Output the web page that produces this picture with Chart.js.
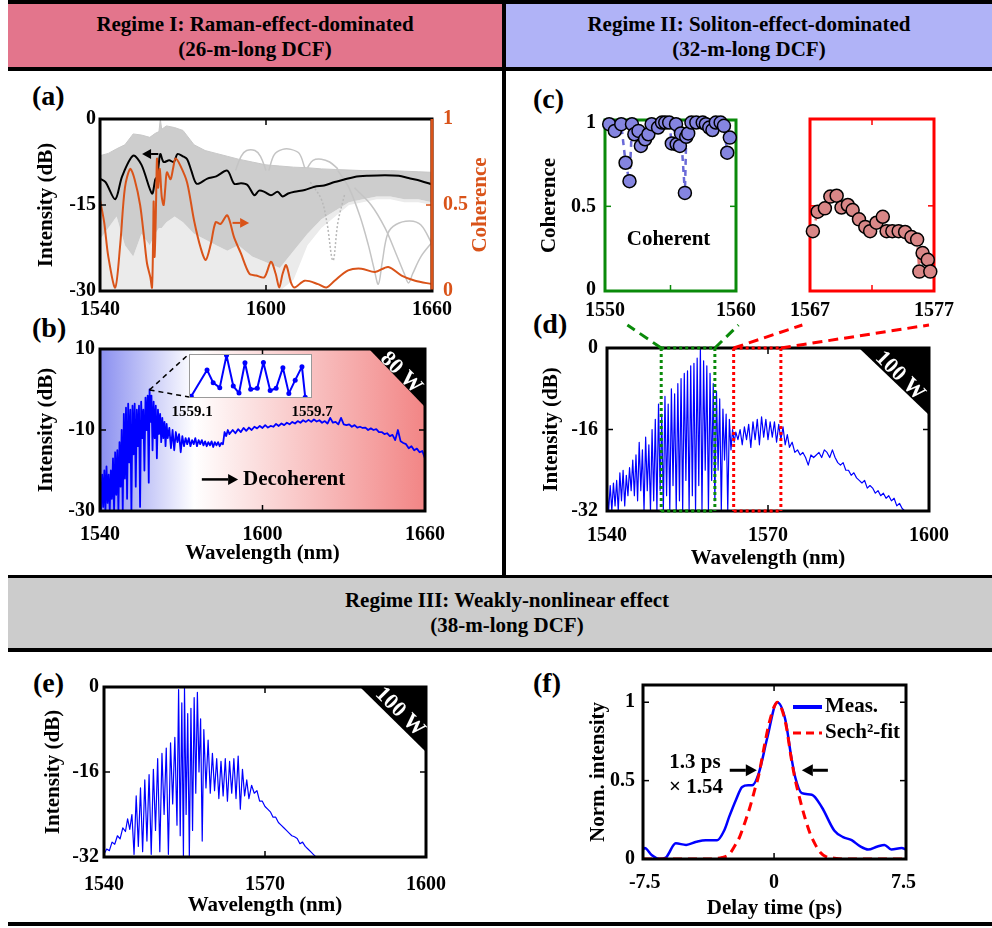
<!DOCTYPE html>
<html>
<head>
<meta charset="utf-8">
<script src="https://cdn.jsdelivr.net/npm/chart.js@4.4.1/dist/chart.umd.min.js"></script>
<style>
  body { margin: 0; background: #fff; }
  #fig { position: relative; width: 992px; height: 928px; overflow: hidden;
         font-family: 'Liberation Serif', 'Times New Roman', serif; font-weight: bold; color: #000; }
  .rule { position: absolute; background: #000; }
  .band { position: absolute; box-sizing: border-box; text-align: center; font-size: 21px; line-height: 25px; }
  .tag { position: absolute; font-size: 28px; line-height: 28px; }
  canvas { position: absolute; }
</style>
</head>
<body>
<div id="fig">
  <div class="rule" style="left:8px;top:0;width:984px;height:4px"></div>
  <div class="band" style="left:8px;top:4px;width:494px;height:63px;background:#e3758c;padding-top:8px">Regime I: Raman-effect-dominated<br>(26-m-long DCF)</div>
  <div class="band" style="left:506px;top:4px;width:486px;height:63px;background:#b0b3f7;padding-top:8px">Regime II: Soliton-effect-dominated<br>(32-m-long DCF)</div>
  <div class="rule" style="left:8px;top:67px;width:984px;height:4px"></div>
  <div class="rule" style="left:502px;top:0;width:4px;height:576px"></div>
  <div class="rule" style="left:8px;top:575px;width:984px;height:3px"></div>
  <div class="band" style="left:8px;top:578px;width:984px;height:70px;background:#cccccc;padding-top:10px;padding-left:14px">Regime III: Weakly-nonlinear effect<br>(38-m-long DCF)</div>
  <div class="rule" style="left:8px;top:648px;width:984px;height:4px"></div>
  <div class="rule" style="left:8px;top:922px;width:984px;height:4px"></div>

  <div class="tag" style="left:32px;top:82px">(a)</div>
  <div class="tag" style="left:32px;top:314px">(b)</div>
  <div class="tag" style="left:533px;top:85px">(c)</div>
  <div class="tag" style="left:533px;top:310px">(d)</div>
  <div class="tag" style="left:33px;top:669px">(e)</div>
  <div class="tag" style="left:533px;top:669px">(f)</div>
</div>
<script>
// ---------------- data ----------------

// (a) single-shot spectra envelope (gray), mean spectrum (black), coherence (orange)
const aEnvLam = [1540, 1543, 1546, 1549, 1552, 1555, 1558, 1560, 1561.3, 1561.8, 1562.3, 1564, 1567, 1570, 1574, 1578,
  1582, 1586, 1590, 1595, 1600, 1605, 1610, 1615, 1620, 1625, 1630, 1635, 1640, 1645, 1650, 1655, 1660];
const aEnvTop = [-6.4, -6, -5.2, -4.5, -2.6, -2.8, -3.2, -2.5, -2.2, 0, -1.8, -1.2, -1.5, -2, -4.5, -5.5,
  -6, -6.5, -7, -7.5, -8, -8.2, -8.4, -8.5, -8.7, -8.8, -8.9, -9, -9, -9, -9.1, -9.2, -9.3];
const aEnvDense = [-21, -19, -17, -22, -24, -20, -22, -20, -19, -19, -19, -18, -17, -18, -20, -21,
  -22, -23, -22, -24, -25, -26, -23, -20, -17.5, -16, -14.5, -14, -13.5, -13.5, -14, -14, -14.5];
const aEnvSparse = [-30, -30, -30, -30, -30, -30, -30, -30, -30, -30, -30, -30, -30, -30, -30, -30,
  -30, -30, -30, -30, -30, -30, -28, -22, -19, -17, -15, -14.5, -14, -14, -14.5, -14.5, -15];
const aArc1Lam = [1589, 1591, 1593, 1596, 1598, 1600];
const aArc1Db = [-9, -6.5, -5.5, -5.5, -6.5, -9];
const aArc2Lam = [1601, 1603, 1606, 1609, 1612, 1614];
const aArc2Db = [-9, -6.2, -5.3, -5.3, -6, -8.5];
const aArc3Lam = [1615, 1617, 1620, 1623, 1626];
const aArc3Db = [-8.5, -7.2, -7, -7.5, -8.7];
const aDrop1Lam = [1626, 1630, 1634, 1637, 1639, 1640.6, 1642, 1644, 1647, 1652, 1656, 1660];
const aDrop1Db = [-9, -12, -17, -22, -26, -28.8, -25, -20, -18.4, -17.8, -18.5, -21.8];
const aDrop2Lam = [1632, 1638, 1643, 1647, 1650, 1651.5, 1653, 1656, 1660];
const aDrop2Db = [-12, -15, -19, -23.5, -27, -28.6, -27, -24, -21.5];
const aDipLam = [1616, 1620, 1622, 1624.2, 1626, 1628.5];
const aDipDb = [-11, -14, -18, -24.7, -18, -13];
const aMeanLam = [1540, 1542, 1545.5, 1548, 1552, 1555, 1558.8, 1560, 1560.6, 1561.2, 1561.8, 1563, 1565, 1566.7, 1568,
  1570, 1571.5, 1573, 1575, 1578.8, 1582, 1586, 1588.5, 1591, 1593.3, 1595.8, 1597.5, 1599.4, 1601.8, 1604.2,
  1606, 1608, 1610.3, 1614, 1617.6, 1621, 1624.8, 1628, 1632, 1637, 1643, 1648, 1651.5, 1656, 1660];
const aMeanDb = [-10.4, -11, -14, -10, -6.4, -8, -13, -10.5, -10.1, -8, -6.1, -7.5, -7.2, -7.5, -6.1,
  -6.5, -7, -9, -11.3, -10.4, -10, -9, -11.3, -11.2, -11.5, -13.3, -12.5, -12.7, -13.3, -12.7,
  -13.5, -13, -12.7, -12.4, -11.8, -11.6, -11, -10.6, -10.1, -9.9, -9.8, -9.9, -10.3, -10.8, -11.4];
const aCohLam = [1540, 1541.5, 1543, 1545.5, 1547.3, 1549, 1550.9, 1552.5, 1554.5, 1556, 1557, 1558.2, 1558.8, 1559.2,
  1559.4, 1559.7, 1560, 1560.3, 1560.6, 1561, 1561.6, 1562.3, 1563, 1563.6, 1564.2, 1565.5, 1566.5, 1567.3, 1569,
  1571.5, 1574, 1576.4, 1578.2, 1580, 1581.8, 1583.6, 1586, 1588.5, 1590.9, 1594, 1596.4, 1599.4, 1601.8, 1603.5,
  1604.8, 1606, 1607.3, 1609, 1610.3, 1614, 1618.8, 1621.8, 1624.8, 1629.7, 1634.5, 1639.4, 1644.2, 1649, 1653.9, 1660];
const aCoh = [0.53, 0.4, 0.2, 0.02, 0.27, 0.6, 0.71, 0.65, 0.5, 0.3, 0.16, 0.08, 0.02, 0.3,
  0.52, 0.2, 0.32, 0.55, 0.77, 0.6, 0.71, 0.55, 0.5, 0.6, 0.69, 0.65, 0.72, 0.77, 0.73,
  0.63, 0.41, 0.25, 0.18, 0.27, 0.4, 0.39, 0.44, 0.31, 0.22, 0.1, 0.09, 0.08, 0.17, 0.1,
  0.02, 0.1, 0.15, 0.05, 0.02, 0.06, 0.04, 0.02, 0.06, 0.12, 0.13, 0.11, 0.14, 0.09, 0.06, 0.04];

// (b) 80 W spectrum and the inset detail (1559.1 - 1559.7 nm)
const bLam = [
  1540.0, 1540.4, 1540.8, 1541.2, 1541.6, 1542.0, 1542.4, 1542.8, 1543.2, 1543.6,
  1544.0, 1544.4, 1544.8, 1545.2, 1545.6, 1546.0, 1546.4, 1546.8, 1547.2, 1547.6,
  1548.0, 1548.4, 1548.8, 1549.2, 1549.6, 1550.0, 1550.4, 1550.8, 1551.2, 1551.6,
  1552.0, 1552.4, 1552.8, 1553.2, 1553.6, 1554.0, 1554.4, 1554.8, 1555.2, 1555.6,
  1556.0, 1556.4, 1556.8, 1557.2, 1557.6, 1558.0, 1558.3, 1558.6, 1559.0, 1559.4,
  1559.8, 1560.2, 1560.6, 1561.0, 1561.4, 1561.8, 1562.2, 1562.6, 1563.0, 1563.4,
  1563.8, 1564.2, 1564.6, 1565.0, 1565.6, 1566.2, 1566.8, 1567.4, 1568.0, 1568.6,
  1569.2, 1569.8, 1570.4, 1571.0, 1571.6, 1572.2, 1572.8, 1573.4, 1574.0, 1574.6,
  1575.2, 1575.8, 1576.4, 1577.0, 1577.6, 1578.2, 1578.8, 1579.4, 1580.0, 1580.6,
  1581.2, 1581.8, 1582.4, 1583.0, 1583.6, 1584.2, 1584.8, 1585.4, 1586.0, 1586.6,
  1587.2, 1587.8, 1588.4, 1589, 1590, 1591, 1592, 1593, 1594, 1595,
  1596, 1597, 1598, 1599, 1600, 1601, 1602, 1603, 1604, 1605,
  1606, 1607, 1608, 1609, 1610, 1611, 1612, 1613, 1614, 1615,
  1616, 1617, 1618, 1619, 1620, 1621, 1622, 1623, 1624, 1625,
  1626, 1627, 1628, 1629, 1630, 1631, 1632, 1633, 1634, 1635,
  1636, 1637, 1638, 1639, 1640, 1641, 1642, 1643, 1644, 1645,
  1646, 1647, 1648, 1649, 1650, 1651, 1652, 1653, 1654, 1655,
  1656, 1657, 1658, 1659, 1660];
const bDb = [
  -24, -30, -21, -29, -20, -30, -19, -28, -21, -30,
  -20, -27, -17, -30, -15.5, -26, -15, -30, -13, -24,
  -10, -30, -6, -22, -4.5, -27, -3.5, -18, -5, -30,
  -4, -16, -3.5, -24, -5, -14, -4, -29, -3, -12,
  -5, -20, -2, -10, -1.5, -23, 0, -8, -1.5, -15,
  -3, -12, -4, -17, -5, -11, -6, -13, -7, -12,
  -8, -14, -8.5, -12, -9.5, -14.5, -10, -15, -10.5, -13,
  -11, -15.5, -11.5, -14, -12, -13.5, -12, -14, -12.5, -13.5,
  -12, -14, -12.5, -13.5, -12.5, -13.8, -12.8, -14, -13, -13.8,
  -12.8, -14.2, -13, -13.8, -13, -14, -13.2, -13.5, -10.5, -11.5,
  -10, -11, -10.5, -10, -10.8, -9.8, -10.5, -9.5, -10.2, -9.4,
  -10, -9.2, -9.6, -9, -9.5, -8.8, -9.4, -9, -9.2, -8.5,
  -9, -8.4, -8.8, -8.2, -8.6, -8, -8.4, -7.8, -8.2, -7.6,
  -8, -7.5, -8, -7.4, -7.9, -7.6, -8.2, -7.8, -8.4, -7,
  -8.2, -8, -8.6, -7, -8.6, -8.8, -8.6, -9.2, -8.8, -9.4,
  -9.2, -9.5, -9.4, -10, -9.6, -10, -9.8, -10.5, -10.5, -11,
  -10.8, -11.5, -11.2, -12.5, -10, -12.8, -13.2, -13.5, -14.5, -14,
  -15, -14.6, -15.5, -15.2, -17];
const bPeak = [1558.3, -0.1];
const bInsetLam = [1559.111, 1559.188, 1559.218, 1559.25, 1559.283, 1559.316, 1559.344, 1559.373, 1559.401,
  1559.433, 1559.463, 1559.496, 1559.525, 1559.558, 1559.587, 1559.618, 1559.651, 1559.667];
const bInsetDb = [-6.86, -3.14, -4.95, -5.64, -1.09, -5.41, -6.41, -2.14, -5.86,
  -5.73, -2.09, -6.05, -5.73, -2.82, -6.45, -4.59, -2.68, -7.0];

// (c) coherence inside the two windows
const cBlueLam = [1550.32, 1550.75, 1551.24, 1551.57, 1551.87, 1552.06, 1552.24, 1552.56, 1552.74, 1553.06,
  1553.31, 1553.56, 1554.05, 1554.35, 1554.6, 1554.9, 1555.1, 1555.42, 1555.47, 1555.72,
  1555.8, 1556.1, 1556.2, 1556.35, 1556.6, 1556.97, 1557.46, 1557.7, 1557.96, 1558.2,
  1558.46, 1558.83, 1559.08, 1559.33, 1559.53];
const cBlueCoh = [0.99, 0.95, 0.99, 0.76, 0.65, 0.99, 0.93, 0.95, 0.86, 0.9,
  0.93, 0.99, 0.97, 1.0, 1.0, 1.0, 0.875, 0.99, 0.87, 0.86,
  0.935, 0.58, 0.915, 0.935, 1.0, 1.0, 1.0, 0.99, 0.97, 0.955,
  1.0, 1.0, 0.98, 0.82, 0.91];
const cRedLam = [1567.23, 1567.62, 1568.2, 1568.64, 1569.15, 1569.54, 1570.05, 1570.44, 1570.95, 1571.46,
  1571.85, 1572.36, 1572.87, 1573.18, 1573.64, 1574.15, 1574.67, 1575.18, 1575.64, 1575.82,
  1576.08, 1576.5, 1576.7];
const cRedCoh = [0.35, 0.465, 0.485, 0.555, 0.56, 0.49, 0.505, 0.475, 0.42, 0.375,
  0.35, 0.4, 0.435, 0.35, 0.35, 0.35, 0.345, 0.315, 0.3, 0.11,
  0.22, 0.18, 0.11];

// (d) 100 W spectrum, 32-m DCF
const dLam = [
  1540.0, 1540.3, 1540.6, 1540.9, 1541.2, 1541.5, 1541.8, 1542.1, 1542.4, 1542.7,
  1543.0, 1543.3, 1543.6, 1543.9, 1544.2, 1544.5, 1544.8, 1545.1, 1545.4, 1545.7,
  1546.0, 1546.3, 1546.6, 1546.9, 1547.2, 1547.5, 1547.8, 1548.1, 1548.4, 1548.7,
  1549.0, 1549.3, 1549.6, 1549.9, 1550.2, 1550.5, 1550.8, 1551.1, 1551.4, 1551.7,
  1552.0, 1552.3, 1552.6, 1552.9, 1553.2, 1553.5, 1553.8, 1554.1, 1554.4, 1554.7,
  1555.0, 1555.3, 1555.6, 1555.9, 1556.2, 1556.5, 1556.8, 1557.1, 1557.4, 1557.7,
  1558.0, 1558.3, 1558.6, 1558.9, 1559.2, 1559.5, 1559.8, 1560.1, 1560.4, 1560.7,
  1561.0, 1561.3, 1561.6, 1561.9, 1562.2, 1562.5, 1562.8, 1563.1, 1563.4, 1563.7,
  1564.0, 1564.4, 1564.8, 1565.2, 1565.6, 1566.0, 1566.4, 1566.8, 1567.2, 1567.6,
  1568.0, 1568.4, 1568.8, 1569.2, 1569.6, 1570.0, 1570.4, 1570.8, 1571.2, 1571.6,
  1572.0, 1572.4, 1572.8, 1573.2, 1573.6, 1574.0, 1574.5, 1575.0, 1575.5, 1576.0,
  1576.5, 1577.0, 1577.5, 1578.0, 1578.5, 1579.0, 1579.5, 1580.0, 1580.5, 1581.0,
  1581.5, 1582.0, 1582.5, 1583.0, 1583.5, 1584.0, 1584.5, 1585.0, 1585.5, 1586.0,
  1586.5, 1587.0, 1587.5, 1588.0, 1588.5, 1589.0, 1589.5, 1590.0, 1590.5, 1591.0,
  1591.5, 1592.0, 1592.5, 1593.0, 1593.5, 1594.0, 1594.5, 1595.0, 1595.5];
const dDb = [
  -28, -32, -27, -32, -26.5, -31, -26, -32, -24.5, -30,
  -24, -31, -25, -29, -23.5, -28, -22, -29, -21, -30,
  -18.5, -28, -20, -32, -17.5, -28, -19, -32, -16, -30,
  -14, -32, -11, -28, -13, -32, -9.5, -29, -11, -32,
  -8, -27, -9, -32, -7, -30, -6, -32, -5, -26,
  -4.5, -32, -3.5, -29, -3, -32, -2, -27, 0, -32,
  -2.5, -24, -3.5, -32, -5, -26, -7, -30, -8.5, -24,
  -10, -32, -12, -22, -13, -32, -14, -20, -16, -18.5,
  -16.5, -18, -16, -19, -15.5, -18, -15, -19.5, -14.5, -18,
  -14, -19, -13.5, -17.5, -14, -18, -14.5, -17.5, -14.5, -18.5,
  -15, -18, -15.5, -19, -17, -19.5, -18.5, -20.5, -20, -21,
  -20.5, -21.5, -23, -21, -21.5, -21, -20.5, -21.5, -20, -20.5,
  -21.5, -20, -21.5, -22.5, -23, -22.5, -24, -24, -25, -24.5,
  -25.5, -26, -26.5, -26, -27.5, -27, -27.5, -28.5, -28, -29,
  -28.5, -29.5, -29, -30, -29.5, -31, -30.5, -31.5, -32];
const dGreen = [1550.1, 1560.1];           // coherent window
const dRed = [1563.6, 1572.4];             // decoherent window
const dZoomTo = [1543.8, 1564.5, 1576.4, 1600];

// (e) 100 W spectrum, 38-m DCF
const eLam = [
  1540.0, 1540.5, 1541.0, 1541.5, 1542.0, 1542.5, 1543.0, 1543.5, 1544.0, 1544.4,
  1544.8, 1545.2, 1545.6, 1546.0, 1546.4, 1546.8, 1547.2, 1547.6, 1548.0, 1548.4,
  1548.8, 1549.2, 1549.6, 1550.0, 1550.4, 1550.8, 1551.2, 1551.6, 1552.0, 1552.4,
  1552.8, 1553.2, 1553.6, 1553.9, 1554.2, 1554.5, 1554.8, 1555.0, 1555.3, 1555.6,
  1555.9, 1556.2, 1556.5, 1556.8, 1557.1, 1557.4, 1557.7, 1558.0, 1558.3, 1558.6,
  1559.0, 1559.4, 1559.8, 1560.2, 1560.6, 1561.0, 1561.4, 1561.8, 1562.2, 1562.6,
  1563.0, 1563.4, 1563.8, 1564.2, 1564.6, 1565.0, 1565.4, 1565.8, 1566.2, 1566.6,
  1567.0, 1567.5, 1568.0, 1568.5, 1569.0, 1569.5, 1570.0, 1570.5, 1571.0, 1571.5,
  1572.0, 1572.5, 1573.0, 1573.5, 1574.0, 1574.5, 1575.0, 1575.5, 1576.0, 1576.5,
  1577.0, 1577.5, 1578.0, 1578.5, 1579.0, 1579.5];
const eDb = [
  -31.5, -30.5, -30.8, -29.2, -29.6, -28, -28.6, -26.5, -27.2, -24.8,
  -26.8, -24, -31.5, -20.5, -30, -19, -31, -17.5, -29, -16.5,
  -31.5, -15.5, -27, -13.5, -31, -12.5, -24, -11.5, -31.5, -10.5,
  -22, -9.5, -26, -0.5, -28, -3, -32, -0.2, -24, -5,
  -32, -4, -27, -2, -20, -1, -16, -6, -29, -8,
  -19, -10, -20, -12.5, -19.5, -13.5, -21, -14, -20.5, -13.5,
  -21.5, -14, -20, -13.5, -21, -13, -23, -15.5, -20.5, -17.5,
  -21, -18.5, -20, -19.5, -21.5, -21.5, -22.5, -23, -23.5, -24.5,
  -24.5, -25.5, -26, -26.5, -27, -27.5, -28, -28.2, -28.5, -29.5,
  -29.2, -30, -30.5, -31, -31.5, -32];

// (f) autocorrelation trace and sech^2 fit
const fT = [-7.6, -7.5, -7.1, -6.65, -6.27, -5.7, -5.1, -4.5, -3.96, -3.3, -2.9, -2.6, -2.2, -1.85, -1.5, -1.27,
  -0.88, -0.4, 0.18, 0.65, 1.0, 1.23, 1.61, 2.19, 2.77, 3.5, 4.0, 4.5, 5.0, 5.45, 6.0, 6.4, 6.8, 7.4, 7.65];
const fMeas = [0.06, 0.07, 0.025, 0, 0.01, 0.1, 0.09, 0.11, 0.12, 0.12, 0.18, 0.27, 0.38, 0.46, 0.47, 0.47,
  0.55, 0.77, 1.0, 0.89, 0.65, 0.52, 0.42, 0.41, 0.33, 0.18, 0.14, 0.12, 0.08, 0.06, 0.08, 0.09, 0.06, 0.07, 0.06];
const fFitT = [-7.6, -4, -3, -2.6, -2.3, -2, -1.7, -1.4, -1.1, -0.9, -0.6, -0.3, 0, 0.2,
  0.4, 0.7, 1.0, 1.2, 1.5, 1.8, 2.1, 2.4, 2.7, 3.0, 3.5, 4, 7.65];
const fFit = [0, 0, 0.01, 0.03, 0.08, 0.14, 0.23, 0.33, 0.45, 0.53, 0.7, 0.86, 0.97, 1.0,
  0.97, 0.85, 0.64, 0.52, 0.38, 0.26, 0.16, 0.09, 0.04, 0.015, 0.005, 0, 0];
const fFwhmY = 0.566;

// tick labels
const aXTicks = [1540, 1600, 1660], aYTicks = [-30, -15, 0], aCohTicks = [0, 0.5, 1];
const bYTicks = [-30, -10, 10];
const cYTicks = [0, 0.5, 1], cXTicksL = [1550, 1560], cXTicksR = [1567, 1577];
const dXTicks = [1540, 1570, 1600], dYTicks = [-32, -16, 0];
const fXTicks = [-7.5, 0, 7.5], fYTicks = [0, 0.5, 1];

// ---------------- helpers ----------------
const FONT = "'Liberation Serif', 'Times New Roman', serif";
const ORANGE = '#d95319', BLUE = '#0000ff', RED = '#ff0000', GREEN = '#0a8a0a';

Chart.defaults.font.family = FONT;
Chart.defaults.font.weight = 'bold';
Chart.defaults.font.size = 20;
Chart.defaults.color = '#000';
Chart.defaults.animation = false;
Chart.defaults.responsive = false;
Chart.defaults.devicePixelRatio = 1;
Chart.defaults.layout.autoPadding = false;
Chart.defaults.plugins.legend.display = false;
Chart.defaults.plugins.tooltip.enabled = false;
Chart.defaults.elements.point.radius = 0;
Chart.defaults.elements.line.borderJoinStyle = 'round';

const pts = (xs, ys) => xs.map((x, i) => ({x, y: ys[i]}));

function mkCanvas(area, pad) {
  const c = document.createElement('canvas');
  const w = area.r - area.l + pad.l + pad.r, h = area.b - area.t + pad.t + pad.b;
  c.width = w; c.height = h;
  c.style.left = (area.l - pad.l) + 'px';
  c.style.top = (area.t - pad.t) + 'px';
  c.style.width = w + 'px';
  c.style.height = h + 'px';
  document.getElementById('fig').appendChild(c);
  return c;
}

function xAxis(min, max, ticks, h, padding, title) {
  return {
    type: 'linear', position: 'bottom', min, max,
    grid: {display: false, drawTicks: false}, border: {display: false},
    ticks: {padding, maxRotation: 0, autoSkip: false, callback: v => String(v)},
    afterBuildTicks: s => { s.ticks = ticks.map(v => ({value: v})); },
    afterFit: s => { s.height = h; },
    title: {display: !!title, text: title || '', font: {size: 21}, padding: 0}
  };
}

function yAxis(min, max, ticks, w, padding, title, extra) {
  return Object.assign({
    type: 'linear', position: 'left', min, max,
    grid: {display: false, drawTicks: false}, border: {display: false},
    ticks: {padding, autoSkip: false, callback: v => String(v)},
    afterBuildTicks: s => { s.ticks = ticks.map(v => ({value: v})); },
    afterFit: s => { s.width = w; },
    title: {display: !!title, text: title || '', font: {size: 21}, padding: 0}
  }, extra || {});
}

function seg(ctx, x1, y1, x2, y2) {
  ctx.beginPath(); ctx.moveTo(x1, y1); ctx.lineTo(x2, y2); ctx.stroke();
}

function txt(ctx, s, x, y, o = {}) {
  ctx.save();
  ctx.font = `bold ${o.size || 21}px ${FONT}`;
  ctx.fillStyle = o.color || '#000';
  ctx.textAlign = o.align || 'center';
  ctx.textBaseline = 'middle';
  ctx.translate(x, y);
  if (o.rot) ctx.rotate(o.rot);
  ctx.fillText(s, 0, 0);
  ctx.restore();
}

function arrow(ctx, x1, y1, x2, y2, color, w = 2, head = 9) {
  const ang = Math.atan2(y2 - y1, x2 - x1);
  const hx = x2 - head * Math.cos(ang), hy = y2 - head * Math.sin(ang);
  const hw = head * 0.55;
  ctx.save();
  ctx.strokeStyle = color; ctx.fillStyle = color; ctx.lineWidth = w;
  seg(ctx, x1, y1, hx, hy);
  ctx.beginPath();
  ctx.moveTo(x2, y2);
  ctx.lineTo(hx - hw * Math.sin(ang), hy + hw * Math.cos(ang));
  ctx.lineTo(hx + hw * Math.sin(ang), hy - hw * Math.cos(ang));
  ctx.closePath(); ctx.fill();
  ctx.restore();
}

// black corner flag with the pump power
function powerTag(chart, w, h, label, dx, dy) {
  const {ctx, chartArea: a} = chart;
  ctx.save();
  ctx.fillStyle = '#000';
  ctx.beginPath();
  ctx.moveTo(a.right - w, a.top); ctx.lineTo(a.right, a.top); ctx.lineTo(a.right, a.top + h);
  ctx.closePath(); ctx.fill();
  ctx.restore();
  txt(ctx, label, a.right - dx, a.top + dy, {color: '#fff', size: 22, rot: Math.PI / 4});
}

// MATLAB-like box with inward ticks
function frame(o = {}) {
  const hook = o.under ? 'beforeDatasetsDraw' : 'afterDatasetsDraw';
  return {
    id: 'frame',
    [hook](chart) {
      const {ctx, chartArea: a, scales} = chart;
      const col = o.color || '#000';
      ctx.save();
      ctx.lineWidth = 1.5;
      ctx.strokeStyle = col;
      scales.x.ticks.map(t => t.value).concat(o.extraX || []).forEach(v => {
        const p = scales.x.getPixelForValue(v);
        if (p - a.left < 4 || a.right - p < 4) return;
        seg(ctx, p, a.bottom, p, a.bottom - 6);
        seg(ctx, p, a.top, p, a.top + 6);
      });
      scales.y.ticks.forEach(t => {
        const p = scales.y.getPixelForValue(t.value);
        if (p - a.top < 4 || a.bottom - p < 4) return;
        seg(ctx, a.left, p, a.left + 6, p);
        if (!o.right) seg(ctx, a.right, p, a.right - 6, p);
      });
      if (o.right) {
        ctx.strokeStyle = o.right;
        scales.y1.ticks.forEach(t => {
          const p = scales.y1.getPixelForValue(t.value);
          if (p - a.top < 4 || a.bottom - p < 4) return;
          seg(ctx, a.right, p, a.right - 6, p);
        });
      }
      ctx.lineWidth = o.width || 3;
      ctx.strokeStyle = col;
      ctx.strokeRect(a.left, a.top, a.right - a.left, a.bottom - a.top);
      if (o.right) { ctx.strokeStyle = o.right; seg(ctx, a.right, a.top, a.right, a.bottom - 1.5); }
      ctx.restore();
    }
  };
}

// ---------------- (a) ----------------
const aArea = {l: 100, t: 116, r: 432, b: 291}, aPad = {l: 66, t: 20, r: 62, b: 30};
const grayLine = (xs, ys, extra) => Object.assign({data: pts(xs, ys), borderColor: '#c4c4c4', borderWidth: 1.5, tension: 0.35, order: 3}, extra || {});
new Chart(mkCanvas(aArea, aPad), {
  type: 'line',
  data: {datasets: [
    {data: pts(aEnvLam, aEnvTop), borderColor: '#c8c8c8', borderWidth: 1, order: 4},
    {data: pts(aEnvLam, aEnvDense), borderWidth: 0, borderColor: 'rgba(0,0,0,0)', fill: '-1', backgroundColor: '#cdcdcd', order: 4},
    {data: pts(aEnvLam, aEnvSparse), borderWidth: 0, borderColor: 'rgba(0,0,0,0)', fill: '-1', backgroundColor: '#ebebeb', order: 4},
    grayLine(aArc1Lam, aArc1Db),
    grayLine(aArc2Lam, aArc2Db),
    grayLine(aArc3Lam, aArc3Db),
    grayLine(aDrop1Lam, aDrop1Db),
    grayLine(aDrop2Lam, aDrop2Db),
    grayLine(aDipLam, aDipDb, {borderDash: [2, 2], borderColor: '#b8b8b8'}),
    {data: pts(aMeanLam, aMeanDb), borderColor: '#000', borderWidth: 2, tension: 0.3, order: 1},
    {data: pts(aCohLam, aCoh), borderColor: ORANGE, borderWidth: 2, tension: 0.3, yAxisID: 'y1', order: 0}
  ]},
  options: {
    layout: {padding: {left: 0, top: aPad.t, right: 0, bottom: 0}},
    scales: {
      x: xAxis(1540, 1660, aXTicks, aPad.b, 7),
      y: yAxis(-30, 0, aYTicks, aPad.l, 4, 'Intensity (dB)'),
      y1: yAxis(0, 1, aCohTicks, aPad.r, 11, null, {position: 'right'})
    }
  },
  plugins: [frame({right: ORANGE}), {
    id: 'aDeco',
    afterDraw(chart) {
      const {ctx, chartArea: a, scales: {x, y, y1}} = chart;
      arrow(ctx, x.getPixelForValue(1561.1), y.getPixelForValue(-6.1), x.getPixelForValue(1555.2), y.getPixelForValue(-6.1), '#000', 2, 9);
      arrow(ctx, x.getPixelForValue(1587.9), y1.getPixelForValue(0.396), x.getPixelForValue(1593.9), y1.getPixelForValue(0.396), ORANGE, 2, 9);
      txt(ctx, 'Coherence', a.right + 49, (a.top + a.bottom) / 2, {color: ORANGE, rot: -Math.PI / 2});
    }
  }]
});
// orange tick labels for the coherence axis
Chart.getChart(document.querySelectorAll('canvas')[0]).options.scales.y1.ticks.color = ORANGE;
Chart.getChart(document.querySelectorAll('canvas')[0]).update();

// ---------------- (b) ----------------
const bArea = {l: 100, t: 349, r: 432, b: 511}, bPad = {l: 66, t: 20, r: 25, b: 55};
new Chart(mkCanvas(bArea, bPad), {
  type: 'line',
  data: {datasets: [{data: pts(bLam, bDb), borderColor: BLUE, borderWidth: 1.8}]},
  options: {
    layout: {padding: {left: 0, top: bPad.t, right: bPad.r, bottom: 0}},
    scales: {
      x: xAxis(1540, 1660, aXTicks, bPad.b, 12, 'Wavelength (nm)'),
      y: yAxis(-30, 10, bYTicks, bPad.l, 5, 'Intensity (dB)')
    }
  },
  plugins: [{
    id: 'bBack',
    beforeDatasetsDraw(chart) {
      const {ctx, chartArea: a} = chart;
      const g = ctx.createLinearGradient(a.left, 0, a.right, 0);
      g.addColorStop(0, 'rgb(138,143,240)');
      g.addColorStop(0.29, '#ffffff');
      g.addColorStop(1, 'rgb(242,133,133)');
      ctx.save(); ctx.fillStyle = g;
      ctx.fillRect(a.left, a.top, a.right - a.left, a.bottom - a.top);
      ctx.restore();
    }
  }, frame(), {
    id: 'bDeco',
    afterDraw(chart) {
      const {ctx, chartArea: a, scales: {x, y}} = chart;
      const px = x.getPixelForValue(bPeak[0]), py = y.getPixelForValue(bPeak[1]);
      ctx.save();
      ctx.strokeStyle = '#000'; ctx.lineWidth = 1.5; ctx.setLineDash([5, 4]);
      seg(ctx, px, py, a.left + 89, a.top + 5);
      seg(ctx, px, py, a.left + 89, a.top + 48);
      ctx.restore();
      txt(ctx, '1559.1', a.left + 92, a.top + 63, {size: 15});
      txt(ctx, '1559.7', a.left + 212, a.top + 63, {size: 15});
      const ay = y.getPixelForValue(-22.2);
      arrow(ctx, x.getPixelForValue(1577.6), ay, x.getPixelForValue(1591.0), ay, '#000', 2.5, 10);
      txt(ctx, 'Decoherent', x.getPixelForValue(1592.8), ay, {align: 'left'});
      powerTag(chart, 56, 58, '80 W', 24, 24);
    }
  }]
});

// inset of (b)
const biArea = {l: 189, t: 354, r: 312, b: 398};
new Chart(mkCanvas(biArea, {l: 0, t: 0, r: 0, b: 0}), {
  type: 'line',
  data: {datasets: [{data: pts(bInsetLam, bInsetDb), borderColor: BLUE, borderWidth: 2,
    pointRadius: 2.5, pointBackgroundColor: BLUE, pointBorderWidth: 0, clip: false}]},
  options: {
    layout: {padding: 0},
    scales: {
      x: {type: 'linear', display: false, min: 1559.1, max: 1559.7},
      y: {type: 'linear', display: false, min: -7.1, max: -0.9}
    }
  },
  plugins: [{
    id: 'inset',
    beforeDraw(chart) {
      const {ctx, width, height} = chart;
      ctx.save(); ctx.fillStyle = '#fff'; ctx.fillRect(0, 0, width, height); ctx.restore();
    },
    afterDraw(chart) {
      const {ctx, width, height} = chart;
      ctx.save(); ctx.strokeStyle = '#9a9a9a'; ctx.lineWidth = 1;
      ctx.strokeRect(0.5, 0.5, width - 1, height - 1); ctx.restore();
    }
  }]
});

// ---------------- (c) ----------------
const dotSet = (xs, ys, fillCol, lineCol) => ({
  data: pts(xs, ys), borderColor: lineCol, borderWidth: 2.5, borderDash: [6, 5],
  pointRadius: 6.5, pointBackgroundColor: fillCol, pointBorderColor: '#000', pointBorderWidth: 1.5, clip: false
});
const cAreaL = {l: 605, t: 119, r: 739, b: 291}, cPadL = {l: 68, t: 20, r: 25, b: 32};
new Chart(mkCanvas(cAreaL, cPadL), {
  type: 'line',
  data: {datasets: [dotSet(cBlueLam, cBlueCoh, '#8585e0', '#6a6ad8')]},
  options: {
    layout: {padding: {left: 0, top: cPadL.t, right: cPadL.r, bottom: 0}},
    scales: {
      x: xAxis(1550, 1560, cXTicksL, cPadL.b, 8),
      y: yAxis(-0.005, 1.015, cYTicks, cPadL.l, 9, 'Coherence')
    }
  },
  plugins: [frame({color: GREEN, under: true, extraX: [1555]}), {
    id: 'cDeco',
    afterDraw(chart) {
      const {ctx, scales: {x, y}} = chart;
      txt(ctx, 'Coherent', x.getPixelForValue(1554.85), y.getPixelForValue(0.3));
    }
  }]
});

const cAreaR = {l: 807, t: 119, r: 937, b: 291}, cPadR = {l: 25, t: 20, r: 25, b: 32};
new Chart(mkCanvas(cAreaR, cPadR), {
  type: 'line',
  data: {datasets: [dotSet(cRedLam, cRedCoh, '#d98787', '#e07070')]},
  options: {
    layout: {padding: {left: 0, top: cPadR.t, right: cPadR.r, bottom: 0}},
    scales: {
      x: xAxis(1567, 1577, cXTicksR, cPadR.b, 8),
      y: yAxis(-0.005, 1.015, cYTicks, cPadR.l, 9, null, {ticks: {display: false}})
    }
  },
  plugins: [frame({color: RED, under: true, extraX: [1572]})]
});

// ---------------- (d) ----------------
const dArea = {l: 607, t: 348, r: 937, b: 511}, dPad = {l: 68, t: 30, r: 25, b: 60};
new Chart(mkCanvas(dArea, dPad), {
  type: 'line',
  data: {datasets: [{data: pts(dLam, dDb), borderColor: BLUE, borderWidth: 1.2}]},
  options: {
    layout: {padding: {left: 0, top: dPad.t, right: dPad.r, bottom: 0}},
    scales: {
      x: xAxis(1540, 1600, dXTicks, dPad.b, 13, 'Wavelength (nm)'),
      y: yAxis(-32, 0, dYTicks, dPad.l, 9, 'Intensity (dB)')
    }
  },
  plugins: [frame(), {
    id: 'dDeco',
    afterDraw(chart) {
      const {ctx, chartArea: a, scales: {x}} = chart;
      ctx.save();
      ctx.lineWidth = 3; ctx.setLineDash([3, 3]);
      [[dGreen, GREEN], [dRed, RED]].forEach(([pair, col]) => {
        const [p1, p2] = pair.map(v => x.getPixelForValue(v));
        ctx.strokeStyle = col;
        seg(ctx, p1, a.top, p1, a.bottom);
        seg(ctx, p2, a.top, p2, a.bottom);
        seg(ctx, p1, a.bottom, p2, a.bottom);
        seg(ctx, p1, a.top, p2, a.top);
      });
      ctx.setLineDash([10, 6]);
      const ends = dGreen.concat(dRed);
      ends.forEach((v, i) => {
        ctx.strokeStyle = i < 2 ? GREEN : RED;
        seg(ctx, x.getPixelForValue(v), a.top, x.getPixelForValue(dZoomTo[i]), a.top - 23);
      });
      ctx.restore();
      powerTag(chart, 70, 67, '100 W', 29, 28);
    }
  }]
});

// ---------------- (e) ----------------
const eArea = {l: 104, t: 687, r: 437, b: 857}, ePad = {l: 63, t: 20, r: 25, b: 61};
new Chart(mkCanvas(eArea, ePad), {
  type: 'line',
  data: {datasets: [{data: pts(eLam, eDb), borderColor: BLUE, borderWidth: 1.2}]},
  options: {
    layout: {padding: {left: 0, top: ePad.t, right: ePad.r, bottom: 0}},
    scales: {
      x: xAxis(1540, 1600, dXTicks, ePad.b, 16, 'Wavelength (nm)'),
      y: yAxis(-32, 0, dYTicks, ePad.l, 5, 'Intensity (dB)')
    }
  },
  plugins: [frame(), {
    id: 'eDeco',
    afterDraw(chart) { powerTag(chart, 66, 65, '100 W', 26, 25); }
  }]
});

// ---------------- (f) ----------------
const fArea = {l: 643, t: 685, r: 906, b: 859}, fPad = {l: 57, t: 20, r: 25, b: 62};
new Chart(mkCanvas(fArea, fPad), {
  type: 'line',
  data: {datasets: [
    {label: 'Sech²-fit', data: pts(fFitT, fFit), borderColor: RED, borderWidth: 3, borderDash: [9, 6], cubicInterpolationMode: 'monotone', order: 0},
    {label: 'Meas.', data: pts(fT, fMeas), borderColor: BLUE, borderWidth: 2.5, cubicInterpolationMode: 'monotone', order: 1}
  ]},
  options: {
    layout: {padding: {left: 0, top: fPad.t, right: fPad.r, bottom: 0}},
    scales: {
      x: xAxis(-7.6, 7.65, fXTicks, fPad.b, 12, 'Delay time (ps)'),
      y: yAxis(0, 1.11, fYTicks, fPad.l, 8, 'Norm. intensity')
    }
  },
  plugins: [frame(), {
    id: 'fDeco',
    afterDraw(chart) {
      const {ctx, chartArea: a, scales: {x, y}} = chart;
      const lx = a.left + 150;
      ctx.save();
      ctx.strokeStyle = BLUE; ctx.lineWidth = 4;
      seg(ctx, lx, a.top + 22, lx + 29, a.top + 22);
      ctx.strokeStyle = RED; ctx.lineWidth = 3; ctx.setLineDash([8, 5]);
      seg(ctx, lx, a.top + 48, lx + 29, a.top + 48);
      ctx.restore();
      txt(ctx, 'Meas.', lx + 32, a.top + 22, {align: 'left'});
      txt(ctx, 'Sech²-fit', lx + 32, a.top + 48, {align: 'left'});
      txt(ctx, '1.3 ps', a.left + 52, a.top + 78);
      txt(ctx, '× 1.54', a.left + 53, a.top + 103);
      const ay = y.getPixelForValue(fFwhmY);
      arrow(ctx, x.getPixelForValue(-2.57), ay, x.getPixelForValue(-1.0), ay, '#000', 3, 11);
      arrow(ctx, x.getPixelForValue(3.12), ay, x.getPixelForValue(1.61), ay, '#000', 3, 11);
    }
  }]
});
</script>
</body>
</html>
